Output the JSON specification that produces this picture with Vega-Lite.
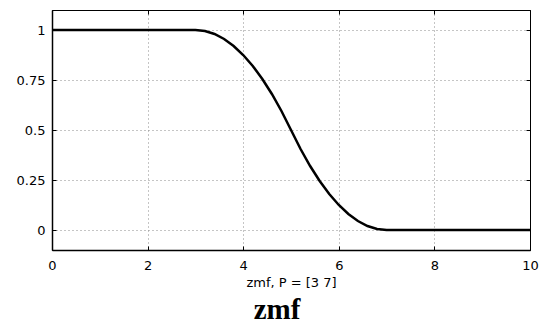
{
  "$schema": "https://vega.github.io/schema/vega-lite/v6.json",
  "autosize": {"type": "none"},
  "width": 478,
  "height": 240,
  "padding": {"left": 52, "top": 10, "right": 9, "bottom": 79},
  "background": "white",
  "config": {
    "view": {"stroke": "black", "strokeWidth": 1},
    "axis": {"labelFont": "DejaVu Sans", "labelFontSize": 13, "labelColor": "black", "titleFont": "DejaVu Sans", "titleFontSize": 13, "titleFontWeight": "normal", "titleColor": "black"}
  },
  "title": {"text": "zmf", "orient": "bottom", "font": "Liberation Serif", "fontSize": 29, "fontWeight": "bold", "color": "black", "offset": 7, "dx": -14},
  "data": {"values": [
    {"x": 0, "y": 1}, {"x": 3, "y": 1}, {"x": 3.2, "y": 0.995}, {"x": 3.4, "y": 0.98}, {"x": 3.6, "y": 0.955}, {"x": 3.8, "y": 0.92}, {"x": 4.0, "y": 0.875}, {"x": 4.2, "y": 0.82}, {"x": 4.4, "y": 0.755}, {"x": 4.6, "y": 0.68}, {"x": 4.8, "y": 0.595}, {"x": 5.0, "y": 0.5}, {"x": 5.2, "y": 0.405}, {"x": 5.4, "y": 0.32}, {"x": 5.6, "y": 0.245}, {"x": 5.8, "y": 0.18}, {"x": 6.0, "y": 0.125}, {"x": 6.2, "y": 0.08}, {"x": 6.4, "y": 0.045}, {"x": 6.6, "y": 0.02}, {"x": 6.8, "y": 0.005}, {"x": 7.0, "y": 0}, {"x": 10, "y": 0}
  ]},
  "resolve": {"axis": {"x": "independent", "y": "independent"}},
  "layer": [
    {
      "mark": {"type": "line", "color": "black", "strokeWidth": 2.5, "clip": true},
      "encoding": {
        "x": {"field": "x", "type": "quantitative", "scale": {"domain": [0, 10], "nice": false, "zero": false},
          "axis": {"values": [0, 2, 4, 6, 8, 10], "title": "zmf, P = [3 7]", "titlePadding": 4, "grid": true, "gridColor": "#8a8a8a", "gridDash": [1, 3], "gridWidth": 1, "gridOpacity": 1, "domainColor": "black", "domainWidth": 1.5, "tickColor": "black", "tickSize": -4, "labelPadding": 13, "labelFlush": false, "labelOverlap": false}},
        "y": {"field": "y", "type": "quantitative", "scale": {"domain": [-0.1, 1.1], "nice": false, "zero": false},
          "axis": {"values": [0, 0.25, 0.5, 0.75, 1], "labelExpr": "'' + datum.value", "title": null, "grid": true, "gridColor": "#8a8a8a", "gridDash": [1, 3], "gridWidth": 1, "gridOpacity": 1, "domainColor": "black", "domainWidth": 1.5, "tickColor": "black", "tickSize": -4, "labelPadding": 11, "labelFlush": false, "labelOverlap": false}}
      }
    },
    {
      "mark": {"type": "line", "opacity": 0},
      "encoding": {
        "x": {"field": "x", "type": "quantitative", "axis": {"orient": "top", "values": [0, 2, 4, 6, 8, 10], "labels": false, "title": null, "grid": false, "domainColor": "black", "tickColor": "black", "tickSize": -4}},
        "y": {"field": "y", "type": "quantitative", "axis": {"orient": "right", "values": [0, 0.25, 0.5, 0.75, 1], "labels": false, "title": null, "grid": false, "domainColor": "black", "tickColor": "black", "tickSize": -4}}
      }
    }
  ]
}
